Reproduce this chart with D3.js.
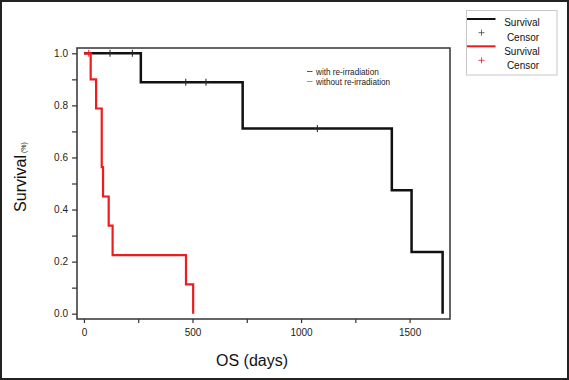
<!DOCTYPE html>
<html><head><meta charset="utf-8">
<script src="https://cdn.jsdelivr.net/npm/d3@7"></script>
<style>body{margin:0;background:#fff}svg{display:block;font-family:"Liberation Sans",Arial,sans-serif}</style>
</head><body><svg id="c" width="569" height="380"></svg>
<script>
// Kaplan-Meier step data (days, survival)
const withTimes = [0, 262, 731, 1418, 1509, 1652];
const withSurv  = [1.0, 0.889, 0.711, 0.474, 0.237, 0.0];
const withCensorTimes = [120, 223, 469, 562, 1075];
const withCensorSurv  = [1.0, 1.0, 0.889, 0.889, 0.711];

const withoutTimes = [0, 31, 56, 82, 88, 114, 132, 470, 503];
const withoutSurv  = [1.0, 0.9, 0.788, 0.563, 0.45, 0.338, 0.225, 0.1125, 0.0];
const withoutCensorTimes = [22];
const withoutCensorSurv  = [1.0];

const xTicks = [0, 500, 1000, 1500];
const xMinor = [250, 750, 1250];
const yTicks = [0, 0.2, 0.4, 0.6, 0.8, 1.0];
const yMinor = [0.1, 0.3, 0.5, 0.7, 0.9];
const seriesNames = ["with re-irradiation", "without re-irradiation"];
const legendLabels = ["Survival", "Censor", "Survival", "Censor"];

const BLACK = "#111", RED = "#ee1c1c";
const svg = d3.select("#c");
const L = 77, R = 450, T = 48, B = 319;
const x = d3.scaleLinear().domain([-32, 1686]).range([L, R]);
const y = d3.scaleLinear().domain([-0.0204, 1.0204]).range([B, T]);

// outer border
svg.append("rect").attr("x",1).attr("y",1).attr("width",567).attr("height",378)
  .attr("fill","none").attr("stroke","#222").attr("stroke-width",2);

// frame
svg.append("rect").attr("x",L).attr("y",T).attr("width",R-L).attr("height",B-T)
  .attr("fill","none").attr("stroke","#333").attr("stroke-width",1.5);

// axes
const yAx = svg.append("g").attr("transform",`translate(${L},0)`)
  .call(d3.axisLeft(y).tickValues(yTicks).tickFormat(d3.format(".1f")).tickSize(5).tickPadding(4));
const yMin = svg.append("g").attr("transform",`translate(${L},0)`)
  .call(d3.axisLeft(y).tickValues(yMinor).tickFormat("").tickSize(5));
const xAx = svg.append("g").attr("transform",`translate(0,${B})`)
  .call(d3.axisBottom(x).tickValues(xTicks).tickFormat(d3.format("d")).tickSize(4).tickPadding(6));
const xMin = svg.append("g").attr("transform",`translate(0,${B})`)
  .call(d3.axisBottom(x).tickValues(xMinor).tickFormat("").tickSize(4));
[yAx,yMin,xAx,xMin].forEach(g=>{
  g.select(".domain").remove();
  g.selectAll("line").attr("stroke","#333").attr("stroke-width",1.2);
  g.selectAll("text").attr("font-size",10).attr("fill","#222").attr("font-family","Liberation Sans, Arial, sans-serif");
});

// titles
svg.append("text").attr("x",252).attr("y",366).attr("text-anchor","middle")
  .attr("font-size",16).attr("fill","#111").text("OS (days)");
const yt = svg.append("text").attr("transform","translate(26,177) rotate(-90)")
  .attr("text-anchor","middle").attr("font-size",16).attr("fill","#111");
yt.append("tspan").text("Survival");
yt.append("tspan").attr("font-size",7).attr("dx",2).text("(%)");

// curves
const stepLine = d3.line().x(d=>x(d[0])).y(d=>y(d[1])).curve(d3.curveStepAfter);
function kmPts(ts, ss){ return ts.map((t,i)=>[t, ss[i]]); }
const curves = [
  {t:withTimes, s:withSurv, ct:withCensorTimes, cs:withCensorSurv, c:BLACK, w:2.5, cc:"#222"},
  {t:withoutTimes, s:withoutSurv, ct:withoutCensorTimes, cs:withoutCensorSurv, c:RED, w:2.2, cc:RED}
];
curves.forEach(cv=>{
  const pts = kmPts(cv.t, cv.s);
  svg.append("path").datum(pts).attr("d",stepLine).attr("fill","none")
    .attr("stroke",cv.c).attr("stroke-width",cv.w).attr("stroke-linejoin","miter");
  const cg = svg.append("g");
  cv.ct.forEach((t,i)=>{
    const cx = x(t), cy = y(cv.cs[i]);
    cg.append("line").attr("x1",cx).attr("x2",cx).attr("y1",cy-3.5).attr("y2",cy+3.5)
      .attr("stroke",cv.cc).attr("stroke-width",1);
    cg.append("line").attr("x1",cx-3.5).attr("x2",cx+3.5).attr("y1",cy).attr("y2",cy)
      .attr("stroke",cv.cc).attr("stroke-width",1);
  });
});

// inner legend
const il = svg.append("g");
seriesNames.forEach((n,i)=>{
  const yy = 72 + i*10;
  il.append("line").attr("x1",307).attr("x2",312.5).attr("y1",yy-0.5).attr("y2",yy-0.5)
    .attr("stroke", i===0 ? "#555" : "#f07070").attr("stroke-width",1);
  il.append("text").attr("x",316).attr("y",yy+3).attr("font-size",8.2).attr("fill","#222").text(n);
});

// outer legend
svg.append("rect").attr("x",466.5).attr("y",10.5).attr("width",90.5).attr("height",64.5)
  .attr("fill","#fff").attr("stroke","#c8c8c8").attr("stroke-width",1);
const lg = svg.append("g");
const rows = [
  {type:"line", c:BLACK, y:19, ty:26},
  {type:"plus", c:"#444", y:32.7, ty:40.5},
  {type:"line", c:RED, y:46.3, ty:54.5},
  {type:"plus", c:RED, y:60.3, ty:69}
];
rows.forEach((r,i)=>{
  if(r.type==="line"){
    lg.append("line").attr("x1",467).attr("x2",495.5).attr("y1",r.y).attr("y2",r.y)
      .attr("stroke",r.c).attr("stroke-width",2);
  } else {
    lg.append("line").attr("x1",481.5).attr("x2",481.5).attr("y1",r.y-3).attr("y2",r.y+3).attr("stroke",r.c).attr("stroke-width",0.8);
    lg.append("line").attr("x1",478.5).attr("x2",484.5).attr("y1",r.y).attr("y2",r.y).attr("stroke",r.c).attr("stroke-width",0.8);
  }
  lg.append("text").attr("x", r.type==="line" ? 522 : 523).attr("y",r.ty).attr("text-anchor","middle")
    .attr("font-size",10).attr("fill","#111").text(legendLabels[i]);
});
</script></body></html>
